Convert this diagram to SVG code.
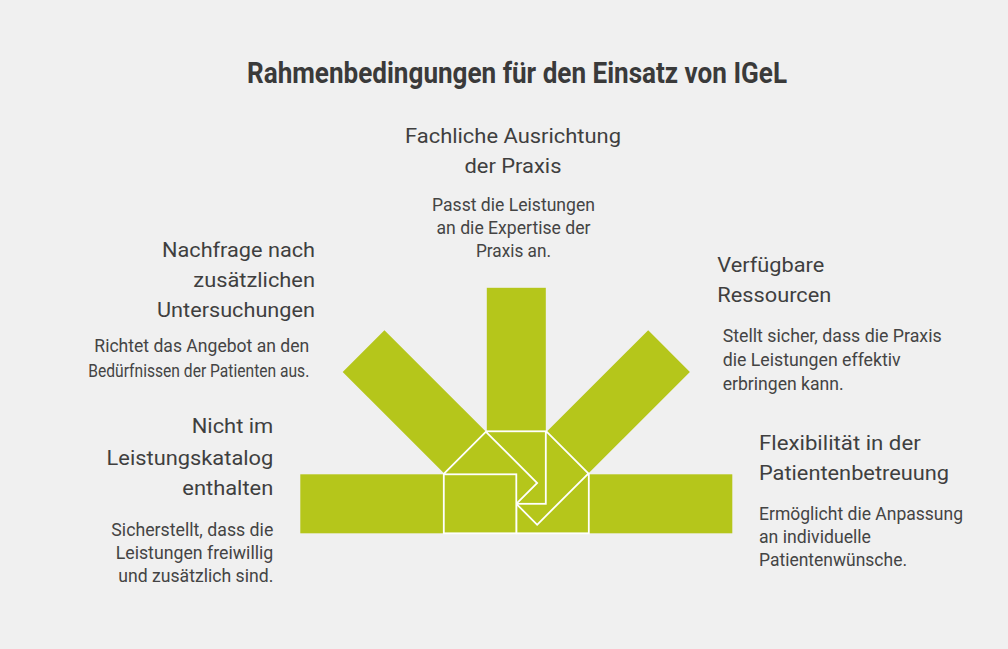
<svg xmlns="http://www.w3.org/2000/svg" width="1008" height="649" viewBox="0 0 1008 649">
<defs>
<style>
.bg{fill:#f0f0f0}
.armout{fill:#b5c61b}
.armend{fill:#b5c61b;stroke:#ffffff;stroke-width:1.8}
.title{font-family:Roboto,"Liberation Sans",sans-serif;font-weight:bold;font-size:29px;fill:#3a3a3a}
.h{font-family:Roboto,"Liberation Sans",sans-serif;font-size:21px;fill:#3f3f3f}
.d{font-family:Roboto,"Liberation Sans",sans-serif;font-size:17.5px;fill:#444444}
.m{text-anchor:middle}
.e{text-anchor:end}
</style>
<g id="armShape">
<rect class="armout" x="300.3" y="474.3" width="144" height="59"/>
<rect class="armend" x="443.8" y="474.3" width="72.5" height="59"/>
</g>
</defs>
<rect class="bg" x="0" y="0" width="1008" height="649"/>
<text class="title m" x="517" y="83" textLength="540" lengthAdjust="spacingAndGlyphs">Rahmenbedingungen für den Einsatz von IGeL</text>

<g id="arms">
<g id="arm-flexibilitaet"><use href="#armShape" transform="rotate(180 516.3 503.8)"/></g>
<g id="arm-ressourcen"><use href="#armShape" transform="rotate(135 516.3 503.8)"/></g>
<g id="arm-fachlich"><use href="#armShape" transform="rotate(90 516.3 503.8)"/></g>
<g id="arm-nachfrage"><use href="#armShape" transform="rotate(45 516.3 503.8)"/></g>
<g id="arm-katalog"><use href="#armShape"/></g>
</g>

<g id="node-fachlich">
<text class="h m" x="513" y="143.3" textLength="216" lengthAdjust="spacingAndGlyphs">Fachliche Ausrichtung</text>
<text class="h m" x="513" y="173.3" textLength="97" lengthAdjust="spacingAndGlyphs">der Praxis</text>
<text class="d m" x="513.5" y="210.7" textLength="163" lengthAdjust="spacingAndGlyphs">Passt die Leistungen</text>
<text class="d m" x="513.5" y="234" textLength="154" lengthAdjust="spacingAndGlyphs">an die Expertise der</text>
<text class="d m" x="513.5" y="257.3" textLength="75" lengthAdjust="spacingAndGlyphs">Praxis an.</text>
</g>

<g id="node-nachfrage">
<text class="h e" x="315" y="256.7" textLength="153" lengthAdjust="spacingAndGlyphs">Nachfrage nach</text>
<text class="h e" x="315" y="286.7" textLength="121.7" lengthAdjust="spacingAndGlyphs">zusätzlichen</text>
<text class="h e" x="315" y="316.7" textLength="158" lengthAdjust="spacingAndGlyphs">Untersuchungen</text>
<text class="d e" x="309.3" y="352.3" textLength="215" lengthAdjust="spacingAndGlyphs">Richtet das Angebot an den</text>
<text class="d e" x="309.3" y="376.5" textLength="221" lengthAdjust="spacingAndGlyphs">Bedürfnissen der Patienten aus.</text>
</g>

<g id="node-ressourcen">
<text class="h" x="717.3" y="271.7" textLength="107" lengthAdjust="spacingAndGlyphs">Verfügbare</text>
<text class="h" x="717.3" y="301.7" textLength="114" lengthAdjust="spacingAndGlyphs">Ressourcen</text>
<text class="d" x="722.7" y="342.3" textLength="219" lengthAdjust="spacingAndGlyphs">Stellt sicher, dass die Praxis</text>
<text class="d" x="722.7" y="366" textLength="178" lengthAdjust="spacingAndGlyphs">die Leistungen effektiv</text>
<text class="d" x="722.7" y="390" textLength="121" lengthAdjust="spacingAndGlyphs">erbringen kann.</text>
</g>

<g id="node-katalog">
<text class="h e" x="273.3" y="433.3" textLength="81.6" lengthAdjust="spacingAndGlyphs">Nicht im</text>
<text class="h e" x="273.3" y="465" textLength="166.7" lengthAdjust="spacingAndGlyphs">Leistungskatalog</text>
<text class="h e" x="273.3" y="495" textLength="91" lengthAdjust="spacingAndGlyphs">enthalten</text>
<text class="d e" x="273.3" y="535.7" textLength="162" lengthAdjust="spacingAndGlyphs">Sicherstellt, dass die</text>
<text class="d e" x="273.3" y="558.5" textLength="157.6" lengthAdjust="spacingAndGlyphs">Leistungen freiwillig</text>
<text class="d e" x="273.3" y="581.5" textLength="155" lengthAdjust="spacingAndGlyphs">und zusätzlich sind.</text>
</g>

<g id="node-flexibilitaet">
<text class="h" x="759" y="449.5" textLength="161.7" lengthAdjust="spacingAndGlyphs">Flexibilität in der</text>
<text class="h" x="759" y="479.5" textLength="190" lengthAdjust="spacingAndGlyphs">Patientenbetreuung</text>
<text class="d" x="759" y="520.3" textLength="204" lengthAdjust="spacingAndGlyphs">Ermöglicht die Anpassung</text>
<text class="d" x="759" y="543" textLength="112" lengthAdjust="spacingAndGlyphs">an individuelle</text>
<text class="d" x="759" y="565.5" textLength="148" lengthAdjust="spacingAndGlyphs">Patientenwünsche.</text>
</g>
</svg>
